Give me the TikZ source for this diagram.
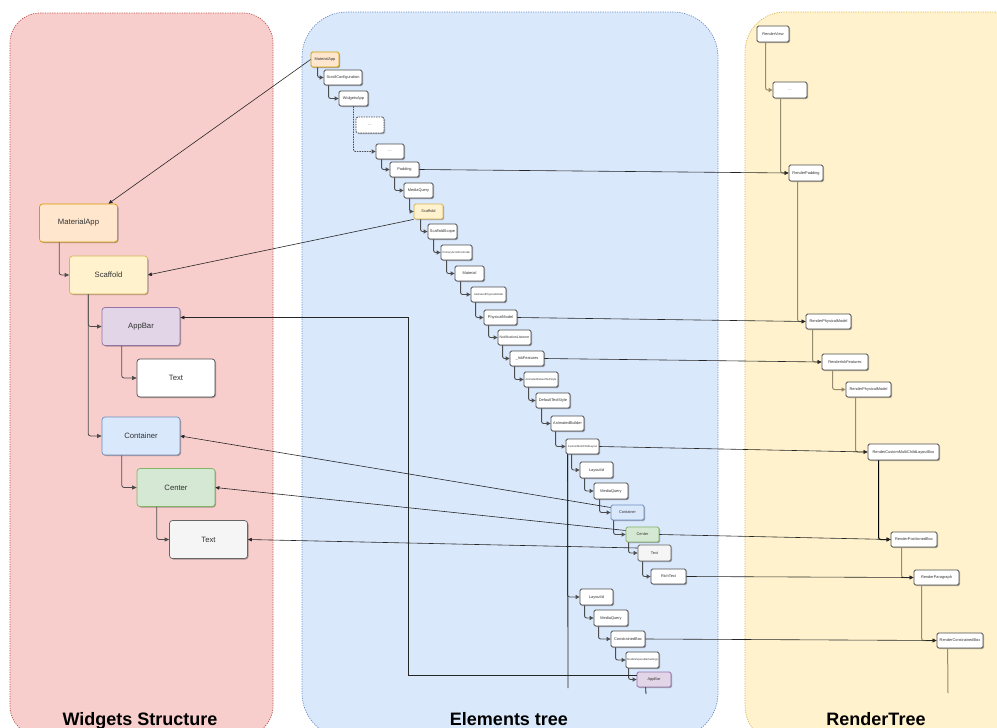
\documentclass[tikz,border=0pt]{standalone}
\usepackage{fontspec}
\setmainfont{Liberation Sans}
\usetikzlibrary{arrows.meta,shadows}

\definecolor{pinkF}{HTML}{F8CECC}\definecolor{pinkD}{HTML}{B85450}
\definecolor{blueF}{HTML}{DAE8FC}\definecolor{blueD}{HTML}{6C8EBF}
\definecolor{yelF}{HTML}{FFF2CC}\definecolor{yelD}{HTML}{D6B656}
\definecolor{oraF}{HTML}{FFE6CC}\definecolor{oraD}{HTML}{D79B00}
\definecolor{purF}{HTML}{E1D5E7}\definecolor{purD}{HTML}{9673A6}
\definecolor{grnF}{HTML}{D5E8D4}\definecolor{grnD}{HTML}{82B366}
\definecolor{gryF}{HTML}{F5F5F5}\definecolor{gryD}{HTML}{666666}
\definecolor{boxD}{HTML}{4D4D4D}
\definecolor{txtC}{HTML}{333333}
\definecolor{rline}{HTML}{958B6E}

\begin{document}
\begin{tikzpicture}[x=1pt,y=-1pt,
  panel/.style={line width=0.7pt, dash pattern=on 1.2pt off 1.2pt},
  title/.style={anchor=base, font=\fontsize{18}{20}\selectfont\bfseries, text=black},
  shade/.style={drop shadow={shadow xshift=1pt, shadow yshift=-1pt, opacity=0.3, fill=black}},
  wbox/.style={draw=boxD, fill=white, rounded corners=3pt, line width=0.7pt,
    minimum width=78pt, minimum height=38pt, inner sep=0pt,
    font=\fontsize{7.7}{9}\selectfont, text=txtC, shade},
  ebox/.style={draw=boxD, fill=white, rounded corners=1.5pt, line width=0.8pt,
    minimum width=33pt, minimum height=15pt, inner sep=0pt,
    font=\fontsize{3.9}{4.5}\selectfont, text=txtC, shade},
  small/.style={font=\fontsize{2.7}{3.2}\selectfont},
  cOra/.style={fill=oraF, draw=oraD},
  cYel/.style={fill=yelF, draw=yelD},
  cPur/.style={fill=purF, draw=purD},
  cBlu/.style={fill=blueF, draw=blueD},
  cGrn/.style={fill=grnF, draw=grnD},
  cGry/.style={fill=gryF, draw=gryD},
  wconn/.style={draw=boxD, line width=0.8pt, rounded corners=2.5pt,
    -{Triangle[length=4.5pt,width=4pt]}},
  econn/.style={draw=boxD, line width=0.9pt, rounded corners=2pt,
    -{Triangle[length=4pt,width=4pt]}},
  rconn/.style={draw=rline, line width=1pt, rounded corners=2pt,
    -{Triangle[length=4pt,width=4pt,fill=black]}},
  xarrow/.style={draw=black!85, line width=0.6pt, -{Triangle[length=4pt,width=3.5pt]}},
  plain/.style={draw=black!85, line width=0.8pt}
]
\useasboundingbox (0,0) rectangle (997,728);

% ---------- the three columns ----------
\draw[panel, fill=pinkF, draw=pinkD, rounded corners=30pt] (10,13) rectangle (273,736);
\draw[panel, fill=blueF, draw=blueD, rounded corners=45pt] (302,12) rectangle (718,738);
\draw[panel, fill=yelF, draw=yelD, rounded corners=40pt] (745,12) rectangle (1040,745);

\node[title] (tW) at (140,725) {Widgets Structure};
\node[title] (tE) at (509,725) {Elements tree};
\node[title] (tR) at (876,725) {RenderTree};

% ---------- widgets ----------
\node[wbox, cOra] (wMA) at (78.5,223) {MaterialApp};
\node[wbox, cYel] (wSc) at (108.5,275) {Scaffold};
\node[wbox, cPur] (wAB) at (141,326.5) {AppBar};
\node[wbox] (wT1) at (176,378) {Text};
\node[wbox, cBlu] (wCo) at (141,436) {Container};
\node[wbox, cGrn] (wCe) at (176,487.5) {Center};
\node[wbox, cGry] (wT2) at (208.5,539.5) {Text};

\draw[wconn] ([xshift=20pt]wMA.south west) |- (wSc.west);
\draw[wconn] ([xshift=19pt]wSc.south west) |- (wAB.west);
\draw[wconn] ([xshift=19pt]wSc.south west) |- (wCo.west);
\draw[wconn] ([xshift=20pt]wAB.south west) |- (wT1.west);
\draw[wconn] ([xshift=20pt]wCo.south west) |- (wCe.west);
\draw[wconn] ([xshift=20pt]wCe.south west) |- (wT2.west);

% ---------- elements ----------
\node[ebox, cOra, minimum width=28pt] (eMA) at (325,59.5) {MaterialApp};
\node[ebox, minimum width=38pt] (eSC) at (343,77.5) {ScrollConfiguration};
\node[ebox, minimum width=29pt] (eWA) at (353.5,98.5) {WidgetsApp};
\node[ebox, minimum width=28pt, minimum height=16pt, dashed, dash pattern=on 1.5pt off 1pt] (eD1) at (370,125) {...};
\node[ebox, minimum width=28pt] (eD2) at (390,151.5) {...};
\node[ebox, minimum width=29pt] (ePad) at (404.5,169.5) {Padding};
\node[ebox, minimum width=29pt] (eMQ) at (418.5,190.5) {MediaQuery};
\node[ebox, cYel, minimum width=29pt] (eScf) at (428.5,211.5) {Scaffold};
\node[ebox, minimum width=29pt] (eSS) at (442.5,231.5) {ScaffoldScope};
\node[ebox, small, minimum width=31pt] (ePSC) at (456.5,252.5) {PrimaryScrollController};
\node[ebox, minimum width=29pt] (eMat) at (469.5,273.5) {Material};
\node[ebox, small, minimum width=35pt] (eAPM) at (488.5,294.5) {AnimatedPhysicalModel};
\node[ebox] (ePM) at (500.5,317.5) {PhysicalModel};
\node[ebox, font=\fontsize{3.5}{4}\selectfont] (eNL) at (514.5,337.5) {NotificationListener};
\node[ebox, minimum width=34pt] (eInk) at (527,358.5) {\_InkFeatures};
\node[ebox, small, minimum width=34pt] (eADTS) at (541,379.5) {AnimatedDefaultTextStyle};
\node[ebox, minimum width=34pt] (eDTS) at (553,400.5) {DefaultTextStyle};
\node[ebox] (eAB) at (567.5,423.5) {AnimatedBuilder};
\node[ebox, small] (eCML) at (582.5,446.5) {CustomMultiChildLayout};
\node[ebox, minimum height=16pt] (eLI1) at (596.5,470) {LayoutId};
\node[ebox, minimum width=34pt, minimum height=16pt] (eMQ2) at (611,491) {MediaQuery};
\node[ebox, cBlu] (eCon) at (627.5,512.5) {Container};
\node[ebox, cGrn] (eCen) at (642.5,534.5) {Center};
\node[ebox, cGry, minimum height=16pt] (eTxt) at (654.5,553) {Text};
\node[ebox, minimum width=35pt] (eRT) at (668.5,576.5) {RichText};
\node[ebox, minimum height=16pt] (eLI2) at (596.5,597) {LayoutId};
\node[ebox, minimum width=34pt, minimum height=16pt] (eMQ3) at (611,618) {MediaQuery};
\node[ebox, minimum width=34pt, minimum height=16pt] (eCB) at (628,639) {ConstrainedBox};
\node[ebox, small, minimum height=16pt] (eFS) at (642.5,660) {FlexibleSpaceBarSettings};
\node[ebox, cPur, minimum width=34pt] (eApp) at (654,679.5) {AppBar};

\draw[econn] ([xshift=7pt]eMA.south west) |- (eSC.west);
\draw[econn] ([xshift=5pt]eSC.south west) |- (eWA.west);
\draw[econn, dashed, dash pattern=on 1.5pt off 1pt] (eWA.south) |- (eD2.west);
\draw[econn] ([xshift=6pt]eD2.south west) |- (ePad.west);
\draw[econn] ([xshift=5pt]ePad.south west) |- (eMQ.west);
\draw[econn] ([xshift=6pt]eMQ.south west) |- (eScf.west);
\draw[econn] ([xshift=7pt]eScf.south west) |- (eSS.west);
\draw[econn] ([xshift=6pt]eSS.south west) |- (ePSC.west);
\draw[econn] ([xshift=6pt]ePSC.south west) |- (eMat.west);
\draw[econn] ([xshift=6pt]eMat.south west) |- (eAPM.west);
\draw[econn] ([xshift=5pt]eAPM.south west) |- (ePM.west);
\draw[econn] ([xshift=5pt]ePM.south west) |- (eNL.west);
\draw[econn] ([xshift=5pt]eNL.south west) |- (eInk.west);
\draw[econn] ([xshift=5pt]eInk.south west) |- (eADTS.west);
\draw[econn] ([xshift=5pt]eADTS.south west) |- (eDTS.west);
\draw[econn] ([xshift=6pt]eDTS.south west) |- (eAB.west);
\draw[econn] ([xshift=5pt]eAB.south west) |- (eCML.west);
\draw[econn] ([xshift=6pt]eCML.south west) |- (eLI1.west);
\draw[econn] ([xshift=5pt]eLI1.south west) |- (eMQ2.west);
\draw[econn] ([xshift=6pt]eMQ2.south west) |- (eCon.west);
\draw[econn] ([xshift=3pt]eCon.south west) |- (eCen.west);
\draw[econn] ([xshift=3pt]eCen.south west) |- (eTxt.west);
\draw[econn] ([xshift=5pt]eTxt.south west) |- (eRT.west);
\draw[econn] ([xshift=2pt]eCML.south west) |- (eLI2.west);
\draw[econn] ([xshift=5pt]eLI2.south west) |- (eMQ3.west);
\draw[econn] ([xshift=5pt]eMQ3.south west) |- (eCB.west);
\draw[econn] ([xshift=5pt]eCB.south west) |- (eFS.west);
\draw[econn] ([xshift=3pt]eFS.south west) |- (eApp.west);

% open ends below the last children
\coordinate (cmlEnd) at (568,688);
\coordinate (appEnd) at (646,694);
\draw[plain] ([xshift=2pt]eCML.south west) -- (cmlEnd);
\draw[plain] ([xshift=9pt]eApp.south west) -- (appEnd);

% ---------- render objects ----------
\node[ebox, minimum width=32pt, minimum height=16pt] (rView) at (773,34) {RenderView};
\node[ebox, minimum width=34pt, minimum height=16pt] (rDots) at (790,90) {...};
\node[ebox, minimum width=34pt, minimum height=16pt] (rPad) at (806,173) {RenderPadding};
\node[ebox, minimum width=45pt] (rPM1) at (828.5,321.5) {RenderPhysicalModel};
\node[ebox, minimum width=46pt, minimum height=16pt] (rInk) at (845,362) {RenderInkFeatures};
\node[ebox, minimum width=45pt] (rPM2) at (868.5,389.5) {RenderPhysicalModel};
\node[ebox, minimum width=71pt, minimum height=16pt] (rCM) at (903.5,452) {RenderCustomMultiChildLayoutBox};
\node[ebox, minimum width=46pt] (rPB) at (914,539.5) {RenderPositionedBox};
\node[ebox, minimum width=45pt] (rPara) at (936.5,577.5) {RenderParagraph};
\node[ebox, minimum width=46pt] (rCB) at (960,640.5) {RenderConstrainedBox};

\draw[rconn] ([xshift=9pt]rView.south west) |- (rDots.west);
\draw[rconn] ([xshift=8pt]rDots.south west) |- (rPad.west);
\draw[rconn] ([xshift=9pt]rPad.south west) |- (rPM1.west);
\draw[rconn] ([xshift=7pt]rPM1.south west) |- (rInk.west);
\draw[rconn] ([xshift=11pt]rInk.south west) |- (rPM2.west);
\draw[rconn] ([xshift=10pt]rPM2.south west) |- (rCM.west);
\draw[rconn, draw=black] ([xshift=11pt]rCM.south west) |- (rPB.west);
\draw[rconn] ([xshift=11pt]rPB.south west) |- (rPara.west);
\draw[rconn] ([xshift=8pt]rPara.south west) |- (rCB.west);
\coordinate (cbEnd) at (948,693);
\draw[draw=rline, line width=1pt] ([xshift=11pt]rCB.south west) -- (cbEnd);

% ---------- element -> widget ----------
\draw[xarrow] (eMA.west) -- ([xshift=30pt]wMA.north);
\draw[xarrow] (eScf.south west) -- (wSc.east);
\draw[xarrow] ([yshift=4pt]eApp.west) -| ([xshift=228pt,yshift=9pt]wAB.east) -- ([yshift=9pt]wAB.east);
\draw[xarrow] ([yshift=5pt]eCon.west) -- (wCo.east);
\draw[xarrow] ([yshift=4pt]eCen.west) -- (wCe.east);
\draw[xarrow] ([yshift=5pt]eTxt.west) -- (wT2.east);

% ---------- element -> render object ----------
\draw[xarrow] (ePad.east) -- (rPad.west);
\draw[xarrow] (ePM.east) -- (rPM1.west);
\draw[xarrow] (eInk.east) -- (rInk.west);
\draw[xarrow] (eCML.east) -- (rCM.west);
\draw[xarrow] (eCen.east) -- (rPB.west);
\draw[xarrow] (eRT.east) -- (rPara.west);
\draw[xarrow] (eCB.east) -- (rCB.west);
\end{tikzpicture}
\end{document}
